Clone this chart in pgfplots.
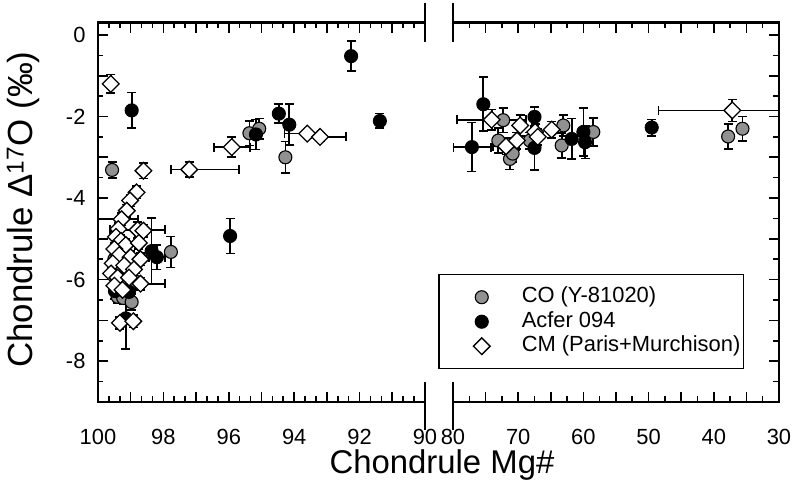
\documentclass[border=0pt]{standalone}
\usepackage{fontspec}
\setmainfont{Liberation Sans}
\usepackage{pgfplots}
\usepackage{pgfplotstable}
\pgfplotsset{compat=1.18}
\definecolor{cogray}{RGB}{145,145,145}

% CO (Y-81020), left panel
\pgfplotstableread{
x y e
99.57 -3.31 0.20
97.77 -5.32 0.38
95.37 -2.41 0.30
95.07 -2.30 0.25
94.27 -3.00 0.39
99.50 -5.50 0.20
99.10 -5.75 0.20
98.85 -6.05 0.20
99.40 -6.42 0.15
99.23 -6.45 0.15
98.97 -6.55 0.20
}\coL
% Acfer 094, left panel
\pgfplotstableread{
x y e
98.97 -1.85 0.44
92.26 -0.52 0.37
91.38 -2.11 0.18
95.96 -4.93 0.43
95.17 -2.44 0.37
94.47 -1.93 0.23
94.15 -2.20 0.50
98.36 -5.30 0.82
98.20 -5.45 0.30
99.48 -6.28 0.20
99.05 -6.30 0.25
99.15 -6.95 0.75
}\acL
\pgfplotstableread{
x y xp xm
98.20 -5.45 0.25 0.25
}\acLx
% CM (Paris+Murchison), left panel
\pgfplotstableread{
x y e
99.61 -1.20 0.23
98.61 -3.33 0.19
97.21 -3.30 0.18
95.91 -2.75 0.25
93.60 -2.42 0.10
93.21 -2.50 0.10
98.82 -3.86 0.15
99.02 -4.06 0.15
99.12 -4.31 0.15
99.28 -4.52 0.15
99.38 -4.76 0.15
98.79 -4.78 0.20
98.61 -4.80 0.15
99.45 -4.95 0.15
99.30 -5.05 0.15
99.15 -5.15 0.15
98.75 -5.10 0.15
99.50 -5.25 0.15
99.35 -5.40 0.15
99.00 -5.45 0.15
98.70 -5.50 0.15
99.55 -5.60 0.15
99.20 -5.65 0.15
98.90 -5.75 0.15
99.60 -5.85 0.15
99.40 -5.95 0.15
99.05 -5.95 0.15
98.70 -6.10 0.15
99.50 -6.15 0.15
99.25 -6.25 0.15
99.33 -7.06 0.15
98.92 -7.02 0.15
}\cmL
\pgfplotstableread{
x y xp xm
97.21 -3.30 0.56 1.52
95.91 -2.75 0.55 0.55
93.60 -2.42 0.70 0.00
93.21 -2.50 0.00 0.79
99.28 -4.52 0.72 0.50
98.79 -4.78 0.84 0.84
98.70 -6.10 0.75 0.75
}\cmLx
% right panel
\pgfplotstableread{
x y e
72.30 -2.09 0.30
73.05 -2.59 0.30
71.26 -3.04 0.26
70.85 -2.91 0.20
68.20 -2.59 0.20
63.08 -2.22 0.25
63.33 -2.71 0.30
58.48 -2.38 0.35
37.80 -2.49 0.31
35.60 -2.30 0.30
}\coR
\pgfplotstableread{
x y e
75.35 -1.70 0.66
77.10 -2.75 0.60
67.50 -2.01 0.25
67.50 -2.77 0.55
61.80 -2.55 0.50
60.00 -2.38 0.58
59.75 -2.63 0.40
49.52 -2.27 0.20
}\acR
\pgfplotstableread{
x y xp xm
77.10 -2.75 2.9 2.9
}\acRx
\pgfplotstableread{
x y e
74.07 -2.08 0.25
71.87 -2.73 0.20
70.20 -2.59 0.20
69.70 -2.22 0.25
67.40 -2.38 0.20
67.00 -2.50 0.20
64.86 -2.32 0.20
37.16 -1.85 0.27
}\cmR
\pgfplotstableread{
x y xp xm
74.07 -2.08 5.3 5.3
71.87 -2.73 2.0 2.0
37.16 -1.85 11.3 11.3
}\cmRx

\pgfplotsset{
  panel/.style={
    scale only axis, height=379.3bp, ymin=-9, ymax=0.3,
    x dir=reverse,
    separate axis lines,
    axis line style={draw=none},
    tick align=inside,
    major tick length=10bp, minor tick length=5.5bp,
    every tick/.style={black, line width=1.6bp},
    ytick={-9,-8,...,0},
    minor ytick={-8.5,-7.5,...,-0.5},
    xtick pos=both,
    tick label style={font=\fontsize{22}{26}\selectfont},
    xticklabel style={yshift=-24bp},
    clip=true,
  },
  error bars/ebar/.style={error bar style={black, line width=1.7bp},
    error mark options={rotate=90, mark size=4.5bp, line width=1.7bp, black}},
  co/.style={only marks, mark=*, mark size=6.5bp,
    mark options={fill=cogray, draw=black, line width=1.1bp},
    error bars/.cd, y dir=both, y explicit, ebar},
  ac/.style={only marks, mark=*, mark size=6.5bp,
    mark options={fill=black, draw=black, line width=1.1bp},
    error bars/.cd, y dir=both, y explicit, ebar},
  cm/.style={only marks, mark=square*, mark size=5.9bp,
    mark options={fill=white, draw=black, line width=1.3bp, rotate=45},
    error bars/.cd, y dir=both, y explicit, ebar},
  xe/.style={forget plot, draw=none, mark=none,
    error bars/.cd, x dir=both, x explicit, ebar},
}

\begin{document}
\begin{tikzpicture}
\useasboundingbox (0bp,0bp) rectangle (795bp,488bp);
\begin{axis}[panel, name=L, at={(98bp,86bp)}, anchor=south west, width=327bp,
  xmin=90, xmax=100,
  xtick={90,91,...,100}, xticklabels={90,,92,,94,,96,,98,,100},
  minor x tick num=2,
  ytick pos=left,
  yticklabels={,-8,,-6,,-4,,-2,,0},
  yticklabel style={xshift=-9bp},
  xlabel={Chondrule Mg\#},
  ylabel={Chondrule Δ\textsuperscript{17}O (‰)},
  every axis x label/.style={at={(axis description cs:1.052,0)}, anchor=center, yshift=-63bp, font=\fontsize{33}{38}\selectfont},
  every axis y label/.style={at={(axis description cs:-0.228,0.507)}, rotate=90, anchor=center, font=\fontsize{35}{40}\selectfont},
]
\addplot[xe] table[x=x, y=y, x error plus=xp, x error minus=xm] {\cmLx};
\addplot[xe] table[x=x, y=y, x error plus=xp, x error minus=xm] {\acLx};
\addplot[co] table[x=x, y=y, y error=e] {\coL};
\addplot[ac] table[x=x, y=y, y error=e] {\acL};
\addplot[cm] table[x=x, y=y, y error=e] {\cmL};
\end{axis}
\begin{axis}[panel, name=R, at={(453bp,86bp)}, anchor=south west, width=326bp,
  xmin=30, xmax=80,
  xtick={30,35,...,80}, xticklabels={30,,40,,50,,60,,70,,80},
  minor x tick num=1,
  ytick pos=right, yticklabels={,,,,,,,,,},
  legend style={at={(-0.046,0.3375)}, anchor=north west, draw=black, line width=1.5bp,
    fill=white, inner xsep=3bp, inner ysep=12bp, row sep=3.5bp,
    font=\fontsize{22}{26}\selectfont,
    nodes={inner sep=0bp, text height=16bp, text depth=5bp}},
  legend cell align=left,
  legend image code/.code={\path[draw=none, fill=none] (0bp,-5bp) rectangle (80bp,5bp); \draw[#1] plot coordinates {(40bp,0bp)};},
]
\addplot[xe] table[x=x, y=y, x error plus=xp, x error minus=xm] {\cmRx};
\addplot[xe] table[x=x, y=y, x error plus=xp, x error minus=xm] {\acRx};
\addplot[co] table[x=x, y=y, y error=e] {\coR};
\addlegendentry{CO (Y-81020)}
\addplot[ac] table[x=x, y=y, y error=e] {\acR};
\addlegendentry{Acfer 094}
\addplot[cm] table[x=x, y=y, y error=e] {\cmR};
\addlegendentry{CM (Paris+Murchison)}
\end{axis}
\draw[line width=2.7bp] (L.south east) -- (L.south west) -- (L.north west) -- (L.north east);
\draw[line width=2.7bp] (R.south west) -- (R.south east) -- (R.north east) -- (R.north west);
\draw[line width=2.7bp] ([yshift=20bp]L.north east) -- ([yshift=-19bp]L.north east);
\draw[line width=2.7bp] ([yshift=20bp]R.north west) -- ([yshift=-19bp]R.north west);
\draw[line width=2.7bp] ([yshift=20bp]L.south east) -- ([yshift=-28bp]L.south east);
\draw[line width=2.7bp] ([yshift=20bp]R.south west) -- ([yshift=-28bp]R.south west);
\end{tikzpicture}
\end{document}
